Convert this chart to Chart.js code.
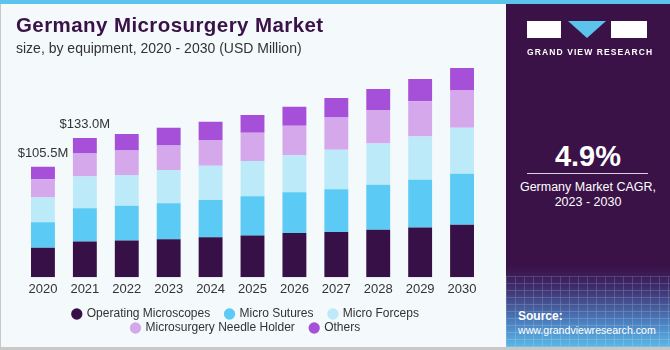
<!DOCTYPE html>
<html>
<head>
<meta charset="utf-8">
<script src="https://cdn.jsdelivr.net/npm/chart.js@4/dist/chart.umd.min.js"></script>
<style>
  html, body { margin:0; padding:0; }
  body { width:670px; height:350px; position:relative; overflow:hidden; background:#f4f9fc; font-family:"Liberation Sans", Arial, sans-serif; }
  #stripe { position:absolute; left:0; top:0; width:670px; height:4px; background:#5cc3ec; }
  #leftBorder { position:absolute; left:0; top:4px; width:1px; height:346px; background:#c8c8c8; }
  #bottomBorder { position:absolute; left:0; top:347px; width:670px; height:3px; background:#c8c8c8; }
  #title { position:absolute; left:16px; top:13px; font-size:20.5px; font-weight:bold; color:#3a1248; letter-spacing:0.42px; white-space:nowrap; }
  #subtitle { position:absolute; left:16px; top:40px; font-size:14px; color:#333; white-space:nowrap; }
  #chartBox { position:absolute; left:0; top:0; width:505px; height:347px; }
  #panel { position:absolute; left:506px; top:4px; width:164px; height:343px;
    background: linear-gradient(to bottom, #3a1248 0px, #3a1248 262px, #3d2a6a 282px, #4a78b8 315px, #5ab8e8 343px); overflow:hidden; }
  #grid { position:absolute; left:0; top:272px; width:164px; height:71px; opacity:0.22;
    background-image: repeating-linear-gradient(to right, rgba(255,255,255,0.7) 0 1px, transparent 1px 9px), repeating-linear-gradient(to bottom, rgba(255,255,255,0.7) 0 1px, transparent 1px 7px); }
  .logoBlock { position:absolute; background:#fff; }
  #tri { position:absolute; left:62px; top:17px; width:0; height:0; border-left:19px solid transparent; border-right:19px solid transparent; border-top:17px solid #5cc3ec; }
  #gvr { position:absolute; left:21px; top:43px; width:121px; text-align:center; font-size:8.5px; font-weight:bold; color:#fff; letter-spacing:1.1px; white-space:nowrap; }
  #cagr { position:absolute; left:0; top:136px; width:164px; text-align:center; font-size:29px; font-weight:bold; color:#fff; }
  #rule { position:absolute; left:21px; top:169px; width:121px; height:1px; background:#d8d0e0; }
  #cagrText { position:absolute; left:0; top:176px; width:164px; text-align:center; font-size:12.5px; color:#fff; line-height:15px; }
  #source { position:absolute; left:12px; top:305px; font-size:10.6px; color:#fff; line-height:14px; white-space:nowrap; }
  #source b { font-size:12px; }
</style>
</head>
<body>
<div id="stripe"></div>
<div id="chartBox"><canvas id="c" width="505" height="347"></canvas></div>
<div id="title">Germany Microsurgery Market</div>
<div id="subtitle">size, by equipment, 2020 - 2030 (USD Million)</div>
<div id="panel">
  <div id="grid"></div>
  <div class="logoBlock" style="left:21px;top:17px;width:34px;height:17px;"></div>
  <div id="tri"></div>
  <div class="logoBlock" style="left:105px;top:17px;width:36px;height:17px;"></div>
  <div id="gvr">GRAND VIEW RESEARCH</div>
  <div id="cagr">4.9%</div>
  <div id="rule"></div>
  <div id="cagrText">Germany Market CAGR,<br>2023 - 2030</div>
  <div id="source"><b>Source:</b><br>www.grandviewresearch.com</div>
</div>
<div id="leftBorder"></div>
<div id="bottomBorder"></div>
<script>
const years = ['2020','2021','2022','2023','2024','2025','2026','2027','2028','2029','2030'];
const operatingMicroscopes = [28.1, 34.2, 35.2, 36.4, 38.1, 39.9, 42.2, 43.2, 45.4, 47.6, 50.2];
const microSutures        = [24.4, 31.8, 33.2, 34.2, 35.8, 37.4, 38.9, 40.9, 42.9, 45.5, 48.6];
const microForceps        = [23.6, 30.3, 29.4, 32.0, 32.6, 33.9, 35.5, 37.8, 39.6, 41.5, 44.1];
const needleHolder        = [17.6, 22.0, 23.3, 23.3, 24.6, 26.9, 28.2, 30.7, 31.9, 33.6, 35.5];
const others              = [11.8, 14.7, 15.7, 17.0, 17.6, 16.9, 18.2, 18.8, 20.1, 21.4, 22.4];
const topLabels = ['$105.5M', '$133.0M'];

const seriesNames = ['Operating Microscopes', 'Micro Sutures', 'Micro Forceps', 'Microsurgery Needle Holder', 'Others'];
const seriesData = [operatingMicroscopes, microSutures, microForceps, needleHolder, others];
const seriesColors = ['#371047', '#5bcaf4', '#bdeaf9', '#d5a8ec', '#a64fd9'];

const topLabelPlugin = {
  id: 'topLabels',
  afterDatasetsDraw(chart) {
    const ctx = chart.ctx;
    const xs = chart.scales.x, ys = chart.scales.y;
    ctx.save();
    ctx.font = '13px "Liberation Sans", Arial, sans-serif';
    ctx.fillStyle = '#333';
    ctx.textAlign = 'center';
    ctx.textBaseline = 'alphabetic';
    topLabels.forEach((t, i) => {
      let sum = 0;
      seriesData.forEach(s => sum += s[i]);
      ctx.fillText(t, xs.getPixelForValue(i), ys.getPixelForValue(sum) - 10);
    });
    ctx.restore();
  }
};

new Chart(document.getElementById('c'), {
  type: 'bar',
  data: {
    labels: years,
    datasets: seriesNames.map((n, k) => ({
      label: n,
      data: seriesData[k],
      backgroundColor: seriesColors[k],
      borderWidth: 0,
      barPercentage: 0.57,
      categoryPercentage: 1.0
    }))
  },
  options: {
    responsive: false,
    animation: false,
    layout: { padding: { top: 68, left: 22, right: 22, bottom: 3 } },
    scales: {
      x: {
        stacked: true,
        grid: { display: false, drawTicks: false },
        border: { display: false },
        ticks: { color: '#333', font: { size: 13, family: '"Liberation Sans", Arial, sans-serif' }, padding: 4 }
      },
      y: {
        stacked: true,
        display: false,
        min: 0,
        max: 200
      }
    },
    plugins: {
      legend: {
        position: 'bottom',
        title: { display: true, text: ' ', font: { size: 1 }, padding: { top: 2, bottom: 2 } },
        labels: {
          usePointStyle: true,
          pointStyle: 'circle',
          boxWidth: 8,
          boxHeight: 8,
          padding: 2,
          color: '#333',
          font: { size: 12, family: '"Liberation Sans", Arial, sans-serif' },
          generateLabels(chart) {
            const items = Chart.defaults.plugins.legend.labels.generateLabels(chart);
            items.forEach(it => { it.text = it.text + '    '; });
            return items;
          }
        }
      },
      tooltip: { enabled: false }
    }
  },
  plugins: [topLabelPlugin]
});
</script>
</body>
</html>
